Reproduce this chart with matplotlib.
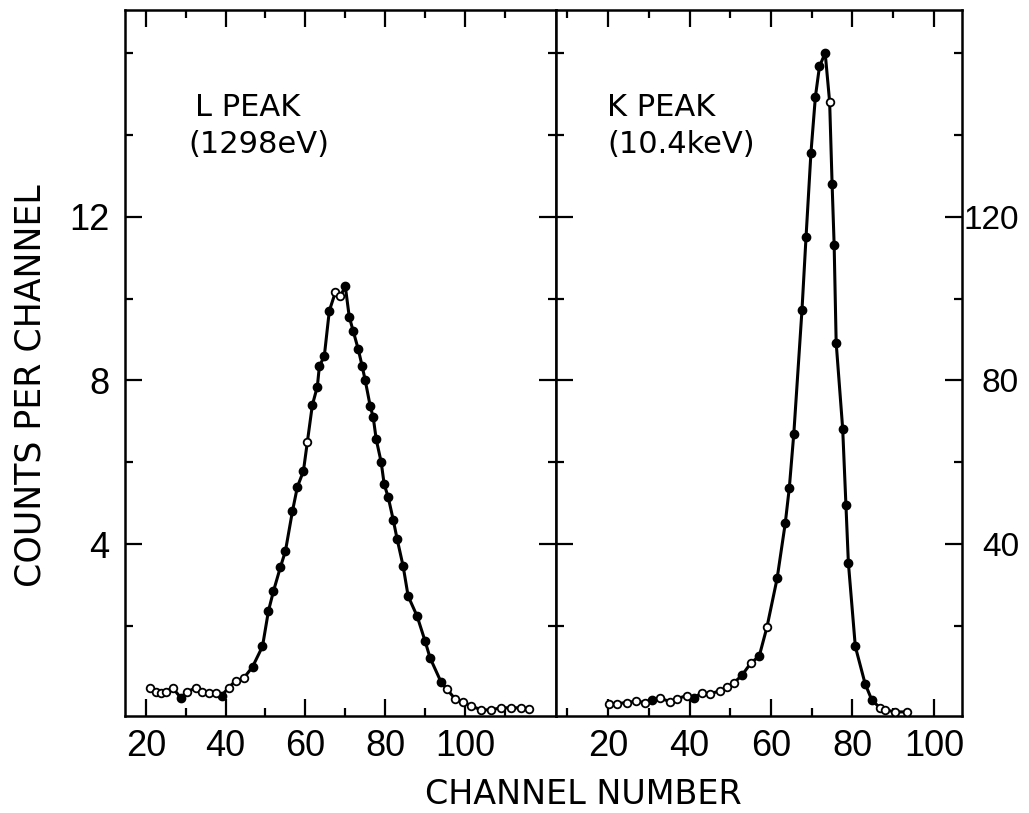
import matplotlib
matplotlib.use("Agg")
import matplotlib.pyplot as plt
import numpy as np

# L peak (left panel), counts per channel
l_x = [21.0, 22.5, 23.75, 25.0, 26.7, 28.75, 30.4, 32.5, 34.0, 35.75, 37.5, 39.0,
       40.75, 42.5, 44.5, 46.75, 49.25, 50.75, 52.0, 53.75, 55.0, 56.75, 58.0, 59.5,
       60.5, 61.75, 63.0, 63.5, 64.75, 66.0, 67.5, 68.75, 70.0, 71.0, 72.0, 73.25,
       74.25, 75.0, 76.25, 77.0, 77.75, 79.0, 79.75, 80.75, 82.0, 83.0, 84.5, 85.75,
       88.0, 90.0, 91.25, 94.0, 95.5, 97.5, 99.5, 101.5, 104.0, 106.5, 109.0, 111.5,
       114.0, 116.0]
l_y = [0.49, 0.39, 0.35, 0.39, 0.49, 0.25, 0.39, 0.49, 0.39, 0.35, 0.35, 0.30,
       0.49, 0.66, 0.72, 1.0, 1.5, 2.37, 2.85, 3.44, 3.83, 4.8, 5.4, 5.78,
       6.5, 7.4, 7.85, 8.34, 8.6, 9.7, 10.15, 10.05, 10.3, 9.55, 9.2, 8.76,
       8.34, 8.0, 7.37, 7.1, 6.56, 6.0, 5.46, 5.15, 4.6, 4.12, 3.46, 2.73,
       2.24, 1.63, 1.22, 0.63, 0.45, 0.22, 0.15, 0.05, -0.05, -0.05, 0.0, 0.0,
       0.0, -0.02]
l_open = [1, 1, 1, 1, 1, 0, 1, 1, 1, 1, 1, 0,
          1, 1, 1, 0, 0, 0, 0, 0, 0, 0, 0, 0,
          1, 0, 0, 0, 0, 0, 1, 1, 0, 0, 0, 0,
          0, 0, 0, 0, 0, 0, 0, 0, 0, 0, 0, 0,
          0, 0, 0, 0, 1, 1, 1, 1, 1, 1, 1, 1,
          1, 1]

# K peak (right panel)
k_x = [20.1, 22.1, 24.6, 26.9, 29.1, 30.7, 32.8, 35.1, 36.9, 39.3, 41.0, 43.0,
       45.1, 47.5, 49.2, 50.8, 52.9, 55.1, 57.1, 59.0, 61.5, 63.5, 64.5, 65.6,
       67.6, 68.6, 69.8, 70.9, 71.9, 73.3, 74.4, 75.0, 75.5, 76.0, 77.6, 78.4,
       79.0, 80.7, 83.1, 84.8, 86.8, 88.0, 90.5, 93.5]
k_y = [1.0, 1.0, 1.3, 1.6, 1.3, 2.0, 2.4, 1.5, 2.2, 3.0, 2.5, 3.6,
       3.4, 4.2, 5.0, 6.0, 8.0, 11.0, 12.6, 19.7, 31.6, 45.1, 53.8, 67.0,
       97.1, 115.0, 135.5, 149.3, 156.7, 160.0, 148.0, 128.0, 113.2, 89.2, 68.2, 49.5,
       35.4, 15.0, 5.9, 1.8, 0.0, -0.5, -1.0, -1.0]
k_open = [1, 1, 1, 1, 1, 0, 1, 1, 1, 1, 0, 1,
          1, 1, 1, 1, 0, 1, 0, 1, 0, 0, 0, 0,
          0, 0, 0, 0, 0, 0, 1, 0, 0, 0, 0, 0,
          0, 0, 0, 0, 1, 1, 1, 1]

x_labels = [20, 40, 60, 80, 100]

plt.rcParams['font.family'] = ['DejaVu Sans']
tick_font = ['Liberation Sans Narrow', 'Liberation Sans', 'DejaVu Sans']

fig = plt.figure(figsize=(10.29, 8.13), dpi=100)
axL = fig.add_axes([0.1215, 0.1193, 0.4188, 0.8684])
axR = fig.add_axes([0.5403, 0.1193, 0.3946, 0.8684])


def draw(ax, x, y, isopen):
    x = np.array(x); y = np.array(y); o = np.array(isopen, dtype=bool)
    ax.plot(x, y, '-', color='black', lw=2.2, zorder=2)
    ax.plot(x[~o], y[~o], 'o', color='black', ms=6, zorder=3)
    ax.plot(x[o], y[o], 'o', mfc='white', mec='black', mew=1.3, ms=5.5, zorder=3)
    for s in ax.spines.values():
        s.set_linewidth(1.8)
    ax.tick_params(which='both', direction='in', top=True, right=True,
                   width=1.6, labelsize=26)
    ax.tick_params(which='major', length=12)
    ax.tick_params(which='minor', length=6)
    ax.tick_params(axis='x', pad=9)


draw(axL, l_x, l_y, l_open)
axL.set_xlim(14.8, 122.8)
axL.set_ylim(-0.2, 17.05)
axL.set_xticks(x_labels)
axL.set_xticks([30, 50, 70, 90, 110], minor=True)
axL.set_yticks([4, 8, 12])
axL.set_yticks([2, 6, 10, 14, 16], minor=True)
axL.tick_params(axis='y', pad=11)
axL.text(32.3, 14.46, "L PEAK", fontsize=22, va='baseline')
axL.text(30.6, 13.56, "(1298eV)", fontsize=22, va='baseline')

draw(axR, k_x, k_y, k_open)
axR.set_xlim(7.2, 106.9)
axR.set_ylim(-2, 170.5)
axR.set_xticks(x_labels)
axR.set_xticks([10, 30, 50, 70, 90], minor=True)
axR.set_yticks([40, 80, 120])
axR.set_yticks([20, 60, 100, 140, 160], minor=True)
axR.tick_params(axis='y', labelleft=False, labelright=True, pad=41, labelsize=24)
for lbl in axR.get_yticklabels():
    lbl.set_ha('right')
axR.text(19.7, 144.6, "K PEAK", fontsize=22, va='baseline')
axR.text(19.7, 135.6, "(10.4keV)", fontsize=22, va='baseline')

for ax in (axL, axR):
    for lbl in ax.get_xticklabels() + ax.get_yticklabels():
        lbl.set_family(tick_font)

fig.text(0.567, 0.011, "CHANNEL NUMBER", fontsize=24, ha='center', va='baseline')
fig.text(0.03, 0.525, "COUNTS PER CHANNEL", fontsize=25, rotation=90,
         ha='center', va='center')

fig.savefig("out.png", dpi=100)
